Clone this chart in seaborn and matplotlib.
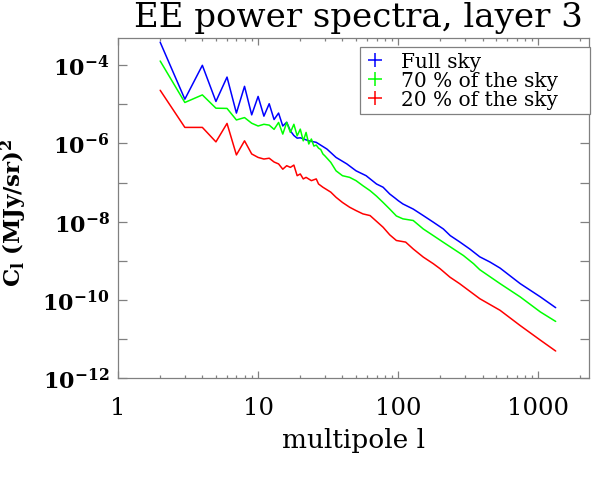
import numpy as np
import pandas as pd
import matplotlib
matplotlib.use("Agg")
import matplotlib.pyplot as plt
from matplotlib.ticker import LogLocator, FuncFormatter, NullFormatter
from matplotlib.lines import Line2D
import seaborn as sns

# values
full_l = [2, 3, 4, 5, 6, 7, 8, 9, 10, 11, 12, 13, 14, 15, 16, 17, 18, 19, 20, 23, 26, 31, 36, 43, 50, 59,
          70, 78, 87, 95, 100, 108, 128, 151, 178, 210, 235, 274, 324, 382, 451, 533, 742, 1034, 1330]
full_c = [3.9e-4, 1.36e-5, 1.0e-4, 1.19e-5, 5.0e-5, 6.0e-6, 2.9e-5, 5.4e-6, 1.6e-5, 5.0e-6, 1.04e-5, 4.1e-6,
          6.0e-6, 2.8e-6, 3.5e-6, 2.1e-6, 1.6e-6, 1.37e-6, 1.4e-6, 1.17e-6, 1.07e-6, 7.2e-7, 4.4e-7, 3.0e-7,
          2.0e-7, 1.5e-7, 9.2e-8, 7.6e-8, 5.1e-8, 4.0e-8, 3.45e-8, 2.84e-8, 2.1e-8, 1.43e-8, 9.7e-9, 6.5e-9,
          4.4e-9, 3.05e-9, 2.0e-9, 1.26e-9, 9.3e-10, 6.5e-10, 2.6e-10, 1.19e-10, 6.3e-11]

sky70_l = [2, 3, 4, 5, 6, 7, 8, 9, 10, 11, 12, 13, 14, 15, 16, 17, 18, 19, 20, 21, 22, 23, 24, 25, 26, 27,
           28, 29, 30, 33, 36, 40, 45, 50, 56, 63, 70, 78, 87, 97, 108, 128, 151, 178, 210, 248, 292, 345,
           382, 533, 742, 1034, 1330]
sky70_c = [1.29e-4, 1.12e-5, 1.75e-5, 8.0e-6, 7.9e-6, 4.0e-6, 4.6e-6, 3.3e-6, 2.8e-6, 3.1e-6, 2.95e-6,
           2.3e-6, 3.45e-6, 1.74e-6, 3.45e-6, 1.92e-6, 3.1e-6, 1.57e-6, 2.33e-6, 1.17e-6, 1.92e-6, 9.7e-7,
           1.3e-6, 8.6e-7, 9.1e-7, 7.6e-7, 7.0e-7, 5.4e-7, 4.8e-7, 3.3e-7, 2.0e-7, 1.5e-7, 1.36e-7, 1.12e-7,
           8.3e-8, 6.2e-8, 4.5e-8, 3.1e-8, 2.1e-8, 1.4e-8, 1.18e-8, 1.07e-8, 6.5e-9, 4.4e-9, 2.96e-9, 2.0e-9,
           1.36e-9, 8.4e-10, 5.9e-10, 2.6e-10, 1.19e-10, 4.9e-11, 2.8e-11]

sky20_l = [2, 3, 4, 5, 6, 7, 8, 9, 10, 11, 12, 13, 14, 15, 16, 17, 18, 19, 20, 21, 22, 24, 26, 27, 29, 33,
           36, 40, 45, 50, 56, 63, 70, 78, 87, 97, 113, 128, 151, 178, 199, 234, 274, 382, 533, 742, 1034, 1330]
sky20_c = [2.3e-5, 2.58e-6, 2.58e-6, 1.1e-6, 3.26e-6, 5.1e-7, 1.17e-6, 5.4e-7, 4.4e-7, 4.0e-7, 4.2e-7,
           3.36e-7, 3.0e-7, 2.2e-7, 2.7e-7, 2.45e-7, 2.8e-7, 1.5e-7, 1.66e-7, 1.24e-7, 1.36e-7, 1.12e-7,
           1.24e-7, 9.2e-8, 7.6e-8, 5.7e-8, 4.2e-8, 3.1e-8, 2.34e-8, 1.92e-8, 1.58e-8, 1.43e-8, 1.02e-8,
           7.2e-9, 4.6e-9, 3.3e-9, 3.0e-9, 2.0e-9, 1.24e-9, 8.4e-10, 6.25e-10, 3.8e-10, 2.6e-10, 1.07e-10,
           5.4e-11, 2.2e-11, 9.3e-12, 4.9e-12]

labels = ["Full sky", "70 % of the sky", "20 % of the sky"]
colors = ["#0000ff", "#00ff00", "#ff0000"]

df = pd.concat([
    pd.DataFrame({"l": full_l, "cl": full_c, "mask": labels[0]}),
    pd.DataFrame({"l": sky70_l, "cl": sky70_c, "mask": labels[1]}),
    pd.DataFrame({"l": sky20_l, "cl": sky20_c, "mask": labels[2]}),
])

sns.set_style("ticks")
plt.rcParams["font.family"] = ["DejaVu Serif"]
plt.rcParams["text.color"] = "black"
plt.rcParams["axes.labelcolor"] = "black"
plt.rcParams["mathtext.fontset"] = "custom"
plt.rcParams["mathtext.rm"] = "DejaVu Serif"
plt.rcParams["mathtext.bf"] = "DejaVu Serif:bold"
plt.rcParams["mathtext.it"] = "DejaVu Serif:italic"

fig = plt.figure(figsize=(5.98, 4.81), dpi=100)
ax = fig.add_axes([118 / 598, 1 - 379 / 481, 471 / 598, 340 / 481])

sns.lineplot(data=df, x="l", y="cl", hue="mask", palette=colors, hue_order=labels,
             estimator=None, sort=False, legend=False, linewidth=1.1, ax=ax)

ax.set_xscale("log")
ax.set_yscale("log")
ax.set_xlim(1, 2300)
ax.set_ylim(1e-12, 5e-4)

ax.yaxis.set_major_locator(LogLocator(base=10, subs=(1.0,), numticks=20))
ax.yaxis.set_minor_formatter(NullFormatter())
ax.yaxis.set_minor_locator(plt.NullLocator())
ax.yaxis.set_major_formatter(FuncFormatter(
    lambda v, p: r"$\mathbf{10^{%d}}$" % round(np.log10(v)) if round(np.log10(v)) % 2 == 0 else ""))
ax.xaxis.set_major_formatter(FuncFormatter(lambda v, p: "%d" % v))

for s in ax.spines.values():
    s.set_color("0.5")
    s.set_linewidth(0.9)
ax.tick_params(which="both", direction="in", top=True, right=True, color="0.5", width=0.9,
               labelcolor="black")
ax.tick_params(axis="x", which="major", length=4.9, labelsize=17.5, pad=13)
ax.tick_params(axis="x", which="minor", length=2.5)
ax.tick_params(axis="y", which="major", length=6.8, labelsize=16, pad=6)

ax.set_xlabel("multipole l", fontsize=19, labelpad=6)
ax.set_ylabel(r"$\mathbf{C_l\ (MJy/sr)^2}$", fontsize=16.5)
ax.yaxis.set_label_coords(-0.188, 0.49)
ax.set_title("EE power spectra, layer 3", fontsize=24.5, pad=8.6, x=0.51)

handles = [Line2D([], [], color=c, marker="+", linestyle="none", markersize=10, mew=1.1) for c in colors]
leg = ax.legend(handles, labels, loc="upper left", mode="expand",
                bbox_to_anchor=(360 / 598, 1 - 117 / 481, 230 / 598, 69 / 481),
                bbox_transform=fig.transFigure, fontsize=14.5, frameon=True, fancybox=False,
                borderpad=0.25, labelspacing=0.0, handlelength=1.0, handletextpad=0.8,
                borderaxespad=0)
leg.get_frame().set_edgecolor("0.5")
leg.get_frame().set_linewidth(0.9)
leg.get_frame().set_alpha(1)

fig.savefig("out.png", dpi=100)
